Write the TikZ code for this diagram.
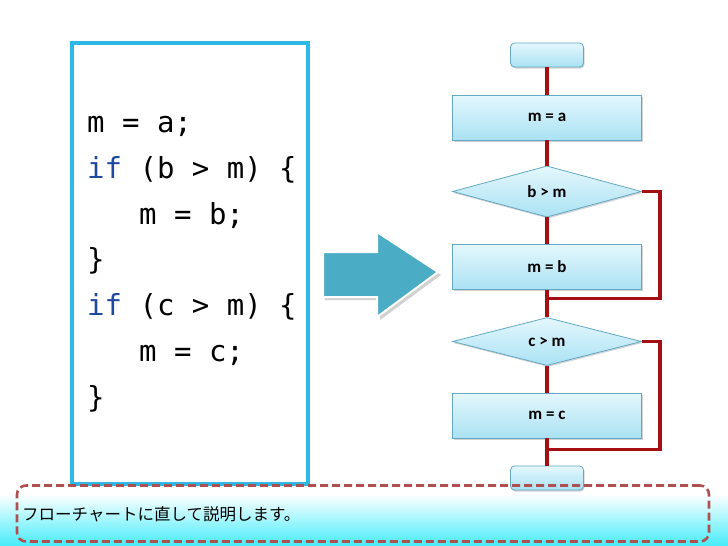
\documentclass[tikz,border=0pt]{standalone}
\usepackage{fontspec}
\usetikzlibrary{shapes.geometric,shadows}
\newfontfamily\codefont{DejaVu Sans Mono}
\newfontfamily\boxfont{Carlito}
\newfontfamily\jpfont{Noto Sans CJK JP}
\definecolor{codeblue}{RGB}{45,185,230}
\definecolor{kwblue}{RGB}{31,73,160}
\definecolor{arrowteal}{RGB}{75,172,198}
\definecolor{boxtop}{RGB}{228,247,253}
\definecolor{boxbot}{RGB}{170,226,243}
\definecolor{boxline}{RGB}{100,168,195}
\definecolor{linered}{RGB}{165,15,20}
\definecolor{dashred}{RGB}{175,80,80}
\definecolor{bgcyan}{RGB}{70,236,250}
\tikzset{
  codeline/.style={anchor=base west, inner sep=0pt, font=\codefont\fontsize{29}{29}\selectfont, text=black},
  fbox/.style={draw=boxline, line width=0.8pt, top color=boxtop, bottom color=boxbot,
    minimum width=189pt, inner sep=0pt, font=\boxfont\bfseries\fontsize{17}{17}\selectfont,
    drop shadow={shadow xshift=1pt, shadow yshift=-1.5pt, opacity=0.35}},
  procbox/.style={fbox, rectangle, minimum height=45pt},
  decbox/.style={fbox, diamond, minimum height=48pt},
  termbox/.style={fbox, rectangle, rounded corners=4pt, minimum width=73pt, minimum height=24pt},
  flowline/.style={draw=linered, line width=3.8pt},
}
\begin{document}
\begin{tikzpicture}[x=1pt,y=-1pt]
\useasboundingbox (0,0) rectangle (728,546);
\fill[white] (0,0) rectangle (728,546);
\shade[top color=white, bottom color=bgcyan] (0,494) rectangle (728,546);

% code box
\node[draw=codeblue, line width=4pt, minimum width=236pt, minimum height=441pt, inner sep=0pt] (codebox) at (190,263) {};
\node[codeline] (l1) at (87,132) {m = a;};
\node[codeline] (l2) at (87,178) {\textcolor{kwblue}{if} (b > m) \{};
\node[codeline] (l3) at (139,224) {m = b;};
\node[codeline] (l4) at (87,269) {\}};
\node[codeline] (l5) at (87,315) {\textcolor{kwblue}{if} (c > m) \{};
\node[codeline] (l6) at (139,361) {m = c;};
\node[codeline] (l7) at (87,407) {\}};

% big arrow
\fill[black, opacity=0.18] (325,255) -- (380,255) -- (380,235) -- (441,275) -- (380,320) -- (380,300) -- (325,300) -- cycle;
\filldraw[fill=arrowteal, draw=white, line width=2pt, line join=miter]
  (323,252) -- (377,252) -- (377,232) -- (438,272) -- (377,317) -- (377,297) -- (323,297) -- cycle;

% flowchart
\node[termbox] (start) at (547,55) {};
\node[procbox] (ma) at (547,117.5) {m = a};
\node[decbox] (d1) at (547,191.5) {b > m};
\node[procbox] (mb) at (547,267) {m = b};
\coordinate (j1) at (547,298.5);
\coordinate (r1) at (660,298.5);
\node[decbox] (d2) at (547,341.5) {c > m};
\node[procbox] (mc) at (547,415.5) {m = c};
\coordinate (j2) at (547,449.5);
\coordinate (r2) at (660,449.5);
\node[termbox] (stop) at (547,478) {};

\begin{scope}[line cap=butt]
\draw[flowline] (start.south) -- (ma.north);
\draw[flowline] (ma.south) -- (d1.north);
\draw[flowline] (d1.south) -- (mb.north);
\draw[flowline] (mb.south) -- (d2.north);
\draw[flowline, line join=miter] (d1.east) -| (r1) -- (j1);
\draw[flowline] (d2.south) -- (mc.north);
\draw[flowline] (mc.south) -- (stop.north);
\draw[flowline, line join=miter] (d2.east) -| (r2) -- (j2);
\end{scope}

% caption box
\node[draw=dashred, dash pattern=on 8pt off 4pt, line width=2.6pt, rounded corners=9pt,
  minimum width=692pt, minimum height=56pt, inner sep=0pt] (capbox) at (363,513.5) {};
\node[anchor=west, inner sep=0pt, font=\jpfont\fontsize{16.5}{16.5}\selectfont] (cap) at (22,514) {フローチャートに直して説明します。};
\end{tikzpicture}
\end{document}
